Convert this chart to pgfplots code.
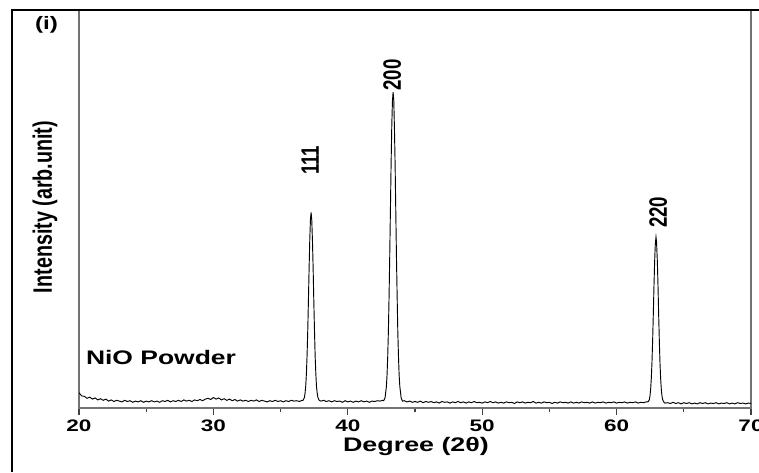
\documentclass[border=0pt]{standalone}
\usepackage{pgfplots}
\pgfplotsset{compat=1.18}
\usepackage{pgfplotstable}
\usepackage{fontspec}
\setmainfont{Liberation Sans}

% XRD pattern, NiO powder
\pgfplotstableread{
x y
20.0 3.9
20.2 3.1
20.4 3.0
20.6 2.5
20.8 2.8
21.0 2.3
21.2 2.6
21.4 2.1
21.6 2.4
21.8 2.0
22.0 2.3
22.2 1.8
22.4 2.1
22.6 1.7
22.8 2.0
23.0 1.8
23.2 1.6
23.4 2.0
23.6 1.7
23.8 1.9
24.0 1.5
24.2 1.8
24.4 1.6
24.6 1.9
24.8 1.5
25.0 1.8
25.2 1.6
25.4 1.9
25.6 1.6
25.8 1.8
26.0 1.5
26.2 1.9
26.4 1.7
26.6 2.0
26.8 1.6
27.0 1.9
27.2 1.7
27.4 2.0
27.6 1.7
27.8 2.1
28.0 1.8
28.2 2.0
28.4 1.7
28.6 2.1
28.8 1.9
29.0 2.2
29.2 1.9
29.4 2.3
29.6 2.5
29.8 2.2
30.0 2.7
30.2 2.3
30.4 2.6
30.6 2.1
30.8 2.4
31.0 2.0
31.2 2.3
31.4 1.9
31.6 2.2
31.8 1.8
32.0 2.1
32.2 1.8
32.4 2.0
32.6 1.7
32.8 2.0
33.0 1.8
33.2 2.1
33.4 1.7
33.6 2.0
33.8 1.8
34.0 1.6
34.2 1.9
34.4 1.7
34.6 2.0
34.8 1.7
35.0 1.9
35.2 1.6
35.4 1.9
35.6 1.7
35.8 2.0
36.0 1.8
36.2 1.9
36.4 1.7
36.6 2.0
36.67 2.0
36.77 2.7
36.82 3.8
36.87 5.6
36.92 8.7
36.97 13.3
37.02 19.5
37.07 27.1
37.12 35.1
37.17 42.3
37.22 47.4
37.27 49.2
37.32 47.2
37.37 42.0
37.42 35.3
37.47 27.0
37.52 19.7
37.57 13.1
37.62 8.8
37.67 5.5
37.72 3.9
37.77 2.8
37.87 2.0
38.0 1.8
38.2 2.0
38.4 1.7
38.6 1.9
38.8 1.6
39.0 1.9
39.2 1.7
39.4 1.8
39.6 1.5
39.8 1.9
40.0 1.6
40.2 1.8
40.4 1.5
40.6 1.8
40.8 1.6
41.0 1.9
41.2 1.6
41.4 1.8
41.6 1.5
41.8 1.8
42.0 1.7
42.2 1.9
42.4 1.8
42.6 2.0
42.67 1.9
42.77 2.6
42.87 5.4
42.92 8.4
42.97 13.0
43.02 19.4
43.07 28.0
43.12 38.3
43.17 49.7
43.22 61.0
43.27 70.6
43.32 77.1
43.37 79.4
43.42 77.4
43.47 70.3
43.52 61.2
43.57 49.5
43.62 38.0
43.67 28.3
43.72 19.2
43.77 13.1
43.82 8.3
43.87 5.5
43.97 2.6
44.07 1.8
44.2 1.9
44.4 1.6
44.6 1.8
44.8 1.5
45.0 1.7
45.2 1.5
45.4 1.8
45.6 1.4
45.8 1.7
46.0 1.5
46.2 1.7
46.4 1.4
46.6 1.6
46.8 1.3
47.0 1.7
47.2 1.5
47.4 1.6
47.6 1.3
47.8 1.6
48.0 1.4
48.2 1.7
48.4 1.4
48.6 1.6
48.8 1.3
49.0 1.6
49.2 1.4
49.4 1.7
49.6 1.4
49.8 1.5
50.0 1.3
50.2 1.6
50.4 1.4
50.6 1.7
50.8 1.4
51.0 1.6
51.2 1.3
51.4 1.5
51.6 1.3
51.8 1.6
52.0 1.4
52.2 1.5
52.4 1.2
52.6 1.6
52.8 1.4
53.0 1.6
53.2 1.3
53.4 1.5
53.6 1.4
53.8 1.7
54.0 1.3
54.2 1.5
54.4 1.3
54.6 1.6
54.8 1.4
55.0 1.5
55.2 1.2
55.4 1.5
55.6 1.3
55.8 1.6
56.0 1.4
56.2 1.5
56.4 1.3
56.6 1.6
56.8 1.3
57.0 1.5
57.2 1.3
57.4 1.6
57.6 1.4
57.8 1.5
58.0 1.3
58.2 1.6
58.4 1.3
58.6 1.5
58.8 1.4
59.0 1.6
59.2 1.3
59.4 1.5
59.6 1.4
59.8 1.6
60.0 1.3
60.2 1.5
60.4 1.4
60.6 1.6
60.8 1.3
61.0 1.5
61.2 1.4
61.4 1.6
61.6 1.3
61.8 1.5
62.0 1.4
62.2 1.6
62.33 1.6
62.43 2.1
62.48 3.0
62.53 4.7
62.58 7.4
62.63 11.4
62.68 16.9
62.73 23.5
62.78 30.6
62.83 36.9
62.88 41.2
62.93 43.0
62.97 41.8
63.03 37.0
63.08 30.8
63.13 23.4
63.18 16.8
63.23 11.2
63.28 7.3
63.33 4.6
63.38 3.0
63.43 2.1
63.53 1.5
63.6 1.3
63.8 1.4
64.0 1.2
64.2 1.5
64.4 1.2
64.6 1.4
64.8 1.1
65.0 1.4
65.2 1.2
65.4 1.4
65.6 1.1
65.8 1.3
66.0 1.1
66.2 1.4
66.4 1.2
66.6 1.4
66.8 1.1
67.0 1.3
67.2 1.2
67.4 1.4
67.6 1.1
67.8 1.3
68.0 1.2
68.2 1.4
68.4 1.1
68.6 1.3
68.8 1.1
69.0 1.4
69.2 1.2
69.4 1.3
69.6 1.1
69.8 1.3
70.0 1.2
}\xrd

\begin{document}
\begin{tikzpicture}
\path[use as bounding box] (0,0) rectangle (569.25pt,354pt);
\begin{axis}[
    at={(59.25pt,47.8pt)}, anchor=south west,
    scale only axis, width=504pt, height=298.6pt,
    xmin=20, xmax=70, ymin=0, ymax=100,
    xtick={20,30,...,70}, minor x tick num=1,
    ytick=\empty, xtick pos=bottom,
    tick align=outside,
    major tick length=5pt, minor tick length=3pt,
    tick style={black!75, line width=1pt},
    axis line style={black!55, line width=1.3pt},
    /pgf/number format/assume math mode=true,
    xticklabel style={font=\bfseries\fontsize{12.5}{13}\selectfont, xscale=1.35, yshift=-0.5pt},
]
\addplot[black, line width=0.7pt] table[x=x, y=y] {\xrd};
\node[font=\bfseries\fontsize{14.7}{16}\selectfont, xscale=1.35] at (axis cs:26.1,12.8) {NiO Powder};
\node[font=\bfseries\fontsize{14}{15}\selectfont, rotate=90, yscale=1.35] at (axis cs:37.2,62.3) {111};
\node[font=\bfseries\fontsize{14}{15}\selectfont, rotate=90, yscale=1.35] at (axis cs:43.3,83.7) {200};
\node[font=\bfseries\fontsize{14}{15}\selectfont, rotate=90, yscale=1.35] at (axis cs:63.1,49.2) {220};
\end{axis}
% outer frame
\draw[black, line width=1.5pt] (9.1pt,0) -- (9.1pt,346.4pt) -- (569.25pt,346.4pt);
\begin{scope}[shift={(33.75pt,198.75pt)}]
\node[font=\bfseries\fontsize{14.8}{16}\selectfont, rotate=90, yscale=1.35] at (0,0) {Intensity (arb.unit)};
\end{scope}
\begin{scope}[shift={(312pt,19.5pt)}]
\node[font=\bfseries\fontsize{14.7}{16}\selectfont, xscale=1.37] at (0,0) {Degree (2θ)};
\end{scope}
\begin{scope}[shift={(34.9pt,335.6pt)}]
\node[font=\bfseries\fontsize{13.5}{15}\selectfont, xscale=1.35] at (0,0) {(i)};
\end{scope}
\end{tikzpicture}
\end{document}
